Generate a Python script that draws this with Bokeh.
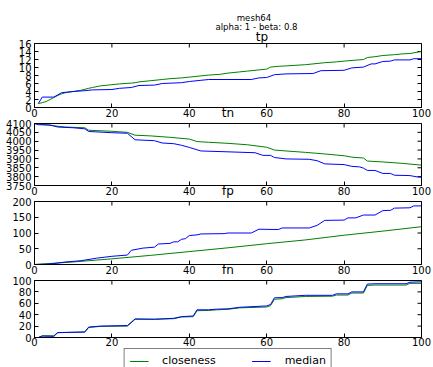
import math
from bokeh.plotting import figure
from bokeh.layouts import column
from bokeh.models import (Range1d, FixedTicker, Legend, LegendItem, AllLabels, Label)
from bokeh.embed import file_html
from bokeh.resources import INLINE

FONT = "DejaVu Sans"
GREEN = "#008000"
BLUE = "#0000ff"

# ---------------- data ----------------
suptitle_1 = "mesh64"
suptitle_2 = "alpha: 1 - beta: 0.8"
panel_titles = ["tp", "tn", "fp", "fn"]
series_names = ["closeness", "median"]

x_ticks = [0, 20, 40, 60, 80, 100]
tp_ticks = [0, 2, 4, 6, 8, 10, 12, 14, 16]
tn_ticks = [3750, 3800, 3850, 3900, 3950, 4000, 4050, 4100]
fp_ticks = [0, 50, 100, 150, 200]
fn_ticks = [0, 20, 40, 60, 80, 100]

tp_close_x = [1, 2, 3, 4, 5, 6, 7, 8, 10, 12, 14, 15, 17, 20, 22, 25, 26, 27, 30, 33, 35, 38, 40, 43,
              45, 48, 50, 53, 55, 58, 60, 61, 63, 65, 70, 73, 75, 78, 80, 85, 86, 88, 90, 93, 95, 97, 100]
tp_close_y = [1.0, 1.2, 1.5, 2.0, 2.5, 3.0, 3.4, 3.7, 4.0, 4.3, 4.8, 5.0, 5.4, 5.7, 5.9, 6.1, 6.2, 6.4,
              6.7, 7.0, 7.2, 7.4, 7.6, 7.9, 8.1, 8.3, 8.6, 8.9, 9.1, 9.4, 9.6, 10.1, 10.3, 10.4, 10.7,
              11.0, 11.2, 11.4, 11.6, 12.0, 12.5, 12.7, 13.0, 13.2, 13.4, 13.5, 14.0]
tp_med_x = [1, 2, 5, 7, 10, 13, 15, 20, 22, 25, 27, 31, 33, 38, 40, 43, 45, 56, 58, 60, 62, 65, 72,
            74, 80, 82, 85, 87, 88, 90, 92, 93, 97, 98, 100]
tp_med_y = [1.0, 2.6, 2.6, 3.7, 4.0, 4.2, 4.4, 4.5, 4.8, 5.0, 5.5, 5.6, 6.0, 6.2, 6.5, 6.8, 7.0, 7.0,
            7.4, 7.5, 8.2, 8.4, 8.5, 9.2, 9.3, 9.9, 10.1, 10.9, 10.9, 11.5, 11.6, 11.9, 11.9, 12.2, 12.2]

tn_close_x = [0, 1, 5, 8, 13, 14, 20, 24, 26, 30, 35, 40, 42, 45, 50, 55, 60, 62, 65, 70, 75, 80, 82,
              85, 86, 90, 95, 100]
tn_close_y = [4100, 4097, 4087, 4080, 4076, 4062, 4056, 4050, 4034, 4030, 4022, 4012, 3998, 3994,
              3988, 3980, 3966, 3950, 3945, 3937, 3928, 3918, 3910, 3905, 3888, 3883, 3875, 3865]
tn_med_x = [0, 1, 4, 6, 10, 13, 14, 20, 24, 26, 31, 33, 36, 38, 40, 43, 50, 57, 59, 61, 62, 65, 71,
            73, 75, 80, 82, 84, 85, 86, 88, 90, 92, 93, 97, 99, 100]
tn_med_y = [4100, 4093, 4092, 4080, 4076, 4070, 4055, 4048, 4045, 4008, 4003, 3990, 3986, 3977, 3965,
            3945, 3940, 3935, 3920, 3920, 3908, 3900, 3898, 3890, 3872, 3868, 3858, 3855, 3848, 3835,
            3835, 3818, 3818, 3808, 3806, 3798, 3797]

fp_close_x = [0, 10, 20, 30, 40, 50, 60, 70, 80, 90, 100]
fp_close_y = [0, 8, 18, 29, 41, 53, 66, 78, 93, 106, 120]
fp_med_x = [0, 3, 5, 8, 12, 16, 20, 24, 25, 28, 31, 32, 35, 36, 37, 38, 39, 40, 42, 43, 49, 50, 56,
            58, 63, 64, 71, 73, 75, 80, 81, 83, 85, 88, 90, 92, 93, 97, 98, 100]
fp_med_y = [0, 1, 3, 8, 12, 20, 26, 30, 45, 52, 55, 65, 67, 72, 72, 80, 82, 92, 94, 97, 98, 100, 100,
            112, 111, 116, 116, 124, 140, 141, 148, 148, 157, 157, 171, 172, 179, 180, 186, 186]

fn_close_x = [1, 2, 5, 6, 13, 14, 17, 24, 26, 31, 36, 38, 41, 42, 45, 47, 50, 53, 60, 61, 62, 64, 65,
              70, 77, 78, 81, 82, 85, 86, 88, 96, 97, 100]
fn_close_y = [0, 3, 3, 8.5, 9.5, 17.5, 19.5, 20, 32, 32, 33, 36, 36.5, 47, 47.5, 48.5, 49.5, 52, 53.5,
              56, 67, 68, 70, 72, 72.5, 74.5, 74.5, 78, 78, 91.5, 92, 92, 95, 95]
fn_med_x = [1, 2, 5, 6, 13, 14, 17, 24, 26, 31, 36, 38, 41, 42, 45, 47, 50, 53, 60, 61, 62, 64, 65,
            70, 77, 78, 81, 82, 85, 86, 88, 96, 97, 100]
fn_med_y = [0, 2.5, 2, 8.6, 9.7, 18.3, 20, 21, 32.6, 32, 33.7, 36.6, 37.7, 48.6, 48.6, 49.7, 50.3, 53,
            55.4, 58, 69.7, 70, 72, 74, 74, 76.6, 76.6, 80, 80, 93.7, 94.3, 94.3, 97, 97.7]


def style_axis(ax, ticks, standoff):
    ax.ticker = FixedTicker(ticks=ticks)
    ax.major_tick_in = 4
    ax.major_tick_out = 0
    ax.minor_tick_in = 0
    ax.minor_tick_out = 0
    ax.axis_line_color = "black"
    ax.major_tick_line_color = "black"
    ax.major_label_policy = AllLabels()
    ax.major_label_text_font = FONT
    ax.major_label_text_font_size = "10px"
    ax.major_label_text_color = "black"
    ax.major_label_standoff = standoff


def panel(height, top, bottom, yr, yticks, next_title=None, xstandoff=1, overlap=0):
    p = figure(width=433, height=height, output_backend="svg", toolbar_location=None,
               title=None, x_range=Range1d(0, 100), y_range=Range1d(*yr),
               min_border_left=34, min_border_right=12,
               min_border_top=top, min_border_bottom=bottom)
    p.xgrid.visible = False
    p.ygrid.visible = False
    p.outline_line_color = "black"
    p.background_fill_color = "white"
    p.border_fill_color = "white"
    if overlap:
        p.border_fill_alpha = 0.0
        p.margin = (-overlap, 0, 0, 0)
    style_axis(p.xaxis[0], x_ticks, xstandoff)
    style_axis(p.yaxis[0], yticks, 3)
    if next_title is not None:
        ax = p.xaxis[0]
        ax.axis_label = next_title
        ax.axis_label_text_font = FONT
        ax.axis_label_text_font_size = "12px"
        ax.axis_label_text_font_style = "normal"
        ax.axis_label_text_color = "black"
        ax.axis_label_standoff = -14
    # inward tick marks on the top and right frame edges
    p.scatter(x=x_ticks, y=[yr[1]] * len(x_ticks), marker="dash", size=8,
              angle=math.pi / 2, line_color="black", line_width=1)
    p.scatter(x=[100] * len(yticks), y=yticks, marker="dash", size=8,
              line_color="black", line_width=1)
    return p


# title strip (its frame is the whole strip; labels in screen pixels)
p0 = figure(width=433, height=43, output_backend="svg", toolbar_location=None, title=None,
            x_axis_location=None, y_axis_location=None,
            min_border_left=0, min_border_right=0, min_border_top=0, min_border_bottom=0)
p0.xgrid.visible = False
p0.ygrid.visible = False
p0.outline_line_color = None
for text, x, y, size in [(suptitle_1, 219.5, 25.7, "8.6px"),
                         (suptitle_2, 222, 16.2, "8.6px"),
                         (panel_titles[0], 227.5, 6.7, "12px")]:
    p0.add_layout(Label(x=x, y=y, x_units="screen", y_units="screen", text=text,
                        text_font=FONT, text_font_size=size, text_color="black",
                        text_align="center", text_baseline="alphabetic"))

p1 = panel(85, 6, 13, (0, 16), tp_ticks, panel_titles[1], overlap=6)
p2 = panel(84, 7, 13, (3750, 4100), tn_ticks, panel_titles[2], overlap=6)
p3 = panel(85, 7, 13, (0, 200), fp_ticks, panel_titles[3], overlap=6)
p4 = panel(76, 7, 12, (0, 100), fn_ticks, xstandoff=0, overlap=6)

data = [
    (p1, tp_close_x, tp_close_y, tp_med_x, tp_med_y),
    (p2, tn_close_x, tn_close_y, tn_med_x, tn_med_y),
    (p3, fp_close_x, fp_close_y, fp_med_x, fp_med_y),
    (p4, fn_close_x, fn_close_y, fn_med_x, fn_med_y),
]
for p, cx, cy, mx, my in data:
    p.line(cx, cy, line_color=GREEN, line_width=1)
    p.line(mx, my, line_color=BLUE, line_width=1)

# legend strip below the last panel (its proxy lines lie outside its own view)
p5 = figure(width=433, height=21, output_backend="svg", toolbar_location=None, title=None,
            x_axis_location=None, y_axis_location=None,
            x_range=Range1d(0, 100), y_range=Range1d(1000, 1001),
            min_border_left=34, min_border_right=12, min_border_top=1, min_border_bottom=0)
p5.margin = (-3, 0, 0, 0)
p5.xgrid.visible = False
p5.ygrid.visible = False
p5.outline_line_color = None
p5.background_fill_alpha = 0.0
p5.border_fill_alpha = 0.0
lg = p5.line(fn_close_x, fn_close_y, line_color=GREEN, line_width=1)
lb = p5.line(fn_med_x, fn_med_y, line_color=BLUE, line_width=1)
legend = Legend(items=[LegendItem(label=series_names[0], renderers=[lg]),
                       LegendItem(label=series_names[1], renderers=[lb])],
                orientation="horizontal", location="top_center",
                padding=5, spacing=36, margin=1,
                glyph_width=19, glyph_height=8, label_height=8,
                label_standoff=14,
                label_text_font=FONT, label_text_font_size="11px",
                label_text_color="black",
                border_line_color="black", border_line_width=1,
                background_fill_color="white", background_fill_alpha=1.0)
p5.add_layout(legend)

layout = column(p0, p1, p2, p3, p4, p5, spacing=0)
open("out.html", "w").write(file_html(layout, INLINE))
